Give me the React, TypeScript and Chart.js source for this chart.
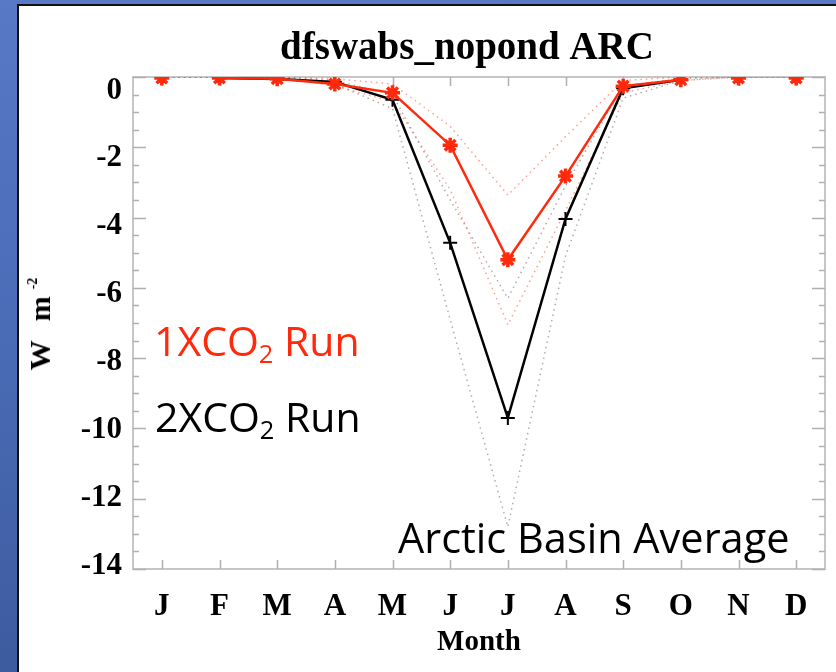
import React, { useEffect, useRef } from 'react';
import { Chart, registerables } from 'chart.js';

Chart.register(...registerables);

// ---------- data ----------
const months = ['J', 'F', 'M', 'A', 'M', 'J', 'J', 'A', 'S', 'O', 'N', 'D'];
const run1x = [-0.03, -0.03, -0.05, -0.2, -0.45, -1.94, -5.2, -2.82, -0.26, -0.08, -0.03, -0.03];
const run2x = [-0.03, -0.03, -0.06, -0.14, -0.65, -4.72, -9.7, -4.04, -0.32, -0.08, -0.03, -0.03];
const run1xHigh = [0, 0, 0, -0.05, -0.2, -1.4, -3.36, -1.7, -0.1, 0, 0, 0];
const run1xLow = [0, 0, 0, -0.25, -0.7, -3.2, -7.05, -3.8, -0.45, -0.1, 0, 0];
const run2xHigh = [0, 0, 0, -0.1, -0.5, -3.5, -6.3, -3.1, -0.25, -0.05, 0, 0];
const run2xLow = [0, 0, 0, -0.2, -0.9, -6.9, -12.8, -5.1, -0.6, -0.1, 0, 0];
const yTickValues = [0, -2, -4, -6, -8, -10, -12, -14];
const yTickLabels = ['0', '-2', '-4', '-6', '-8', '-10', '-12', '-14'];
const titleText = 'dfswabs_nopond ARC';
const xTitle = 'Month';

const RED = '#ff2a0c';
const SERIF = '"Liberation Serif", "Times New Roman", serif';
const LINE_FIRST = 1; // solid lines drawn from F
const LINE_LAST = 9; // ... to O

const frameTicks = {
  id: 'frameTicks',
  beforeDatasetsDraw(chart: any) {
    const { ctx, chartArea } = chart;
    const { left, right, top, bottom } = chartArea;
    const ys = chart.scales.y;
    const xs = chart.scales.x;
    ctx.save();
    ctx.strokeStyle = '#c6c6c6';
    ctx.lineWidth = 2;
    ctx.strokeRect(left, top, right - left, bottom - top);
    ctx.strokeStyle = '#b0b0b0';
    ctx.lineWidth = 1.5;
    ctx.beginPath();
    for (let v = -14; v <= 0.001; v += 0.5) {
      const y = Math.round(ys.getPixelForValue(v)) + 0.5;
      const major = Math.abs(v % 2) < 0.001;
      const len = major ? 13 : 6;
      ctx.moveTo(left, y);
      ctx.lineTo(left + len, y);
      ctx.moveTo(right, y);
      ctx.lineTo(right - len, y);
    }
    for (let i = 0; i < months.length; i++) {
      const x = Math.round(xs.getPixelForValue(i)) + 0.5;
      ctx.moveTo(x, bottom);
      ctx.lineTo(x, bottom - 9);
      ctx.moveTo(x, top);
      ctx.lineTo(x, top + 9);
    }
    ctx.stroke();
    ctx.restore();
  },
};

const chartTitle = {
  id: 'chartTitle',
  afterDraw(chart: any) {
    const { ctx } = chart;
    ctx.save();
    ctx.fillStyle = '#000';
    ctx.font = `bold 39px ${SERIF}`;
    ctx.textAlign = 'center';
    ctx.textBaseline = 'middle';
    ctx.fillText(titleText, 448, 43);
    ctx.restore();
  },
};

export default function App() {
  const ref = useRef<HTMLCanvasElement>(null);

  useEffect(() => {
    if (!ref.current) return;
    const dotted = (data: number[], color: string) => ({
      data,
      yAxisID: 'y',
      borderColor: color,
      borderWidth: 1.5,
      borderDash: [1.5, 4],
      pointRadius: 0,
      fill: false,
      tension: 0,
      clip: 0,
    });
    const hideOutside = (color: string) => (c: any) =>
      c.p0DataIndex < LINE_FIRST || c.p1DataIndex > LINE_LAST ? 'rgba(0,0,0,0)' : color;
    const chart = new Chart(ref.current, {
      type: 'line',
      data: {
        labels: months,
        datasets: [
          {
            label: '1XCO2 Run',
            data: run1x,
            yAxisID: 'y',
            borderColor: RED,
            backgroundColor: RED,
            borderWidth: 2.5,
            pointStyle: 'star',
            pointRadius: 7.5,
            pointBorderWidth: 3.5,
            pointBorderColor: RED,
            pointBackgroundColor: RED,
            tension: 0,
            clip: 0,
            segment: { borderColor: hideOutside(RED) },
          },
          {
            label: '2XCO2 Run',
            data: run2x,
            yAxisID: 'y',
            borderColor: '#000',
            backgroundColor: '#000',
            borderWidth: 2.5,
            pointStyle: 'cross',
            pointRadius: 7,
            pointBorderWidth: 2,
            pointBorderColor: '#000',
            tension: 0,
            clip: 0,
            segment: { borderColor: hideOutside('#000') },
          },
          dotted(run1xHigh, 'rgba(255,80,60,0.55)'),
          dotted(run1xLow, 'rgba(255,80,60,0.55)'),
          dotted(run2xHigh, 'rgba(120,120,120,0.6)'),
          dotted(run2xLow, 'rgba(120,120,120,0.6)'),
        ],
      } as any,
      options: {
        responsive: false,
        animation: false,
        devicePixelRatio: 1,
        layout: { padding: { left: 0, right: 7, top: 71, bottom: 0 } },
        plugins: {
          legend: { display: false },
          tooltip: { enabled: false },
          title: { display: false },
        },
        scales: {
          x: {
            type: 'category',
            offset: true,
            grid: { display: false, drawTicks: false },
            border: { display: false },
            ticks: {
              color: '#000',
              font: { family: SERIF, size: 31, weight: 'bold' },
              padding: 19,
              maxRotation: 0,
              autoSkip: false,
            },
            title: {
              display: true,
              text: xTitle,
              color: '#000',
              font: { family: SERIF, size: 29, weight: 'bold', lineHeight: 1 },
              padding: { top: 0, bottom: 15 },
            },
            afterFit: (s: any) => {
              s.height = 103;
            },
          },
          y: { type: 'linear', display: false, min: -14, max: 0 },
          yl: {
            type: 'linear',
            position: 'left',
            min: -14.1,
            max: 0.4,
            bounds: 'data',
            grid: { display: false, drawTicks: false },
            border: { display: false },
            afterBuildTicks: (s: any) => {
              s.ticks = yTickValues.map((v) => ({ value: v }));
            },
            ticks: {
              color: '#000',
              font: { family: SERIF, size: 31, weight: 'bold' },
              padding: 11,
              callback: (_v: any, i: number) => yTickLabels[i],
            },
            afterFit: (s: any) => {
              s.width = 114;
            },
          },
        },
      } as any,
      plugins: [frameTicks, chartTitle],
    });
    return () => chart.destroy();
  }, []);

  const annot: React.CSSProperties = {
    position: 'absolute',
    fontFamily: '"Open Sans", sans-serif',
    fontSize: 41,
    lineHeight: '41px',
    whiteSpace: 'nowrap',
  };
  const sub: React.CSSProperties = { fontSize: '0.62em', verticalAlign: '-0.28em', lineHeight: 0 };

  return (
    <div
      style={{
        position: 'absolute',
        left: 0,
        top: 0,
        width: 836,
        height: 672,
        overflow: 'hidden',
        background: 'linear-gradient(180deg, #5779c6 0%, #4a6bb6 50%, #3d5b9f 100%)',
      }}
    >
      <div
        style={{
          position: 'absolute',
          left: 17,
          top: 4,
          width: 819,
          height: 668,
          background: '#fff',
          borderLeft: '2px solid #111',
          borderTop: '2px solid #111',
          boxSizing: 'border-box',
        }}
      >
        <canvas ref={ref} width={817} height={666} style={{ display: 'block', width: 817, height: 666 }} />
      </div>
      <div
        style={{
          position: 'absolute',
          left: 40,
          top: 324,
          transform: 'translate(-50%, -50%) rotate(-90deg)',
          fontFamily: SERIF,
          fontWeight: 'bold',
          fontSize: 30,
          lineHeight: '30px',
          whiteSpace: 'nowrap',
          color: '#000',
          wordSpacing: 12,
        }}
      >
        W m<sup style={{ fontSize: 14, verticalAlign: '0.9em', lineHeight: 0, marginLeft: 7 }}>-2</sup>
      </div>
      <div style={{ ...annot, left: 154, top: 320, color: RED }}>
        1XCO<sub style={sub}>2</sub> Run
      </div>
      <div style={{ ...annot, left: 155, top: 396, color: '#000' }}>
        2XCO<sub style={sub}>2</sub> Run
      </div>
      <div style={{ ...annot, left: 398, top: 517, color: '#000', fontSize: 41.5 }}>Arctic Basin Average</div>
    </div>
  );
}
